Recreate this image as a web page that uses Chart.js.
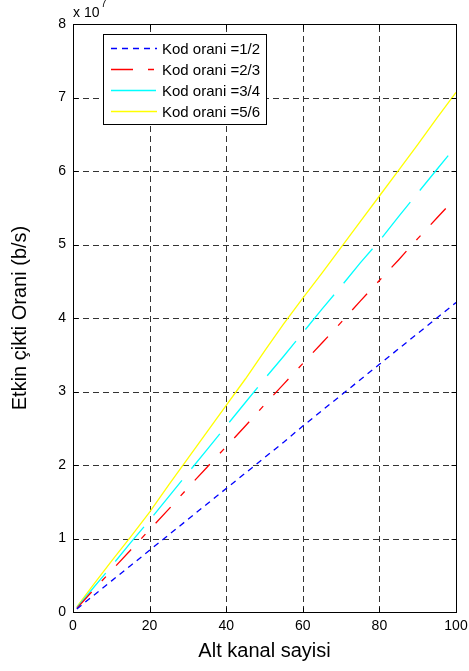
<!DOCTYPE html>
<html>
<head>
<meta charset="utf-8">
<script src="https://cdn.jsdelivr.net/npm/chart.js@4/dist/chart.umd.min.js"></script>
<style>
  html, body { margin: 0; padding: 0; background: #fff; }
  #wrap { width: 469px; height: 671px; position: relative; }
</style>
</head>
<body>
<div id="wrap"><canvas id="myChart"></canvas></div>
<script>
// number of sub-channels on the x axis
var subchannels = [1, 5, 10, 15, 20, 25, 30, 35, 40, 45, 50, 55, 60, 65, 70, 75, 80, 85, 90, 95, 100];

// effective throughput, in units of 10^7 b/s
var rate12 = [0.04, 0.21, 0.42, 0.63, 0.84, 1.05, 1.26, 1.47, 1.68, 1.89, 2.10, 2.31, 2.53, 2.74, 2.95, 3.16, 3.37, 3.58, 3.79, 4.00, 4.21];
var rate23 = [0.05, 0.28, 0.56, 0.84, 1.12, 1.40, 1.69, 1.97, 2.25, 2.53, 2.82, 3.10, 3.38, 3.66, 3.94, 4.23, 4.51, 4.79, 5.08, 5.36, 5.64];
var rate34 = [0.06, 0.31, 0.62, 0.94, 1.25, 1.57, 1.89, 2.21, 2.53, 2.85, 3.17, 3.48, 3.80, 4.12, 4.43, 4.75, 5.05, 5.38, 5.70, 6.02, 6.34];
var rate56 = [0.07, 0.35, 0.69, 1.02, 1.36, 1.73, 2.09, 2.45, 2.81, 3.17, 3.55, 3.92, 4.27, 4.61, 4.96, 5.31, 5.66, 6.01, 6.36, 6.72, 7.07];

var seriesLabels = ['Kod orani =1/2', 'Kod orani =2/3', 'Kod orani =3/4', 'Kod orani =5/6'];
var xTicks = [0, 20, 40, 60, 80, 100];
var yTicks = [0, 1, 2, 3, 4, 5, 6, 7, 8];

function pts(ys) {
  return subchannels.map(function (x, i) { return { x: x, y: ys[i] }; });
}

var styles = [
  { color: '#0000ff', dash: [6, 5] },
  { color: '#ff0000', dash: [22, 15, 6, 15] },
  { color: '#00ffff', dash: [45, 15] },
  { color: '#ffff00', dash: [] }
];
var allRates = [rate12, rate23, rate34, rate56];

var datasets = allRates.map(function (r, i) {
  return {
    label: seriesLabels[i],
    data: pts(r),
    borderColor: styles[i].color,
    borderDash: styles[i].dash,
    borderWidth: 1.3,
    pointRadius: 0,
    tension: 0,
    fill: false
  };
});

var FONT = '"Liberation Sans", Arial, Helvetica, sans-serif';

// grid, box, ticks, titles and legend in MATLAB style
var matlabAxes = {
  id: 'matlabAxes',
  beforeDatasetsDraw: function (chart) {
    var c = chart.ctx, a = chart.chartArea;
    var xs = chart.scales.x, ys = chart.scales.y;
    c.save();
    c.strokeStyle = '#333';
    c.lineWidth = 1;
    c.setLineDash([6, 4]);
    xTicks.slice(1, -1).forEach(function (v) {
      var px = Math.round(xs.getPixelForValue(v)) + 0.5;
      c.beginPath(); c.moveTo(px, a.bottom); c.lineTo(px, a.top); c.stroke();
    });
    yTicks.slice(1, -1).forEach(function (v) {
      var py = Math.round(ys.getPixelForValue(v)) + 0.5;
      c.beginPath(); c.moveTo(a.left, py); c.lineTo(a.right, py); c.stroke();
    });
    c.restore();
  },
  afterDatasetsDraw: function (chart) {
    var c = chart.ctx, a = chart.chartArea;
    var xs = chart.scales.x, ys = chart.scales.y;
    var L = Math.round(a.left) + 0.5, R = Math.round(a.right) + 0.5;
    var T = Math.round(a.top) + 0.5, B = Math.round(a.bottom) + 0.5;
    c.save();
    c.setLineDash([]);
    c.strokeStyle = '#000';
    c.lineWidth = 1;
    c.strokeRect(L, T, R - L, B - T);
    // inward tick marks
    xTicks.forEach(function (v) {
      var px = Math.round(xs.getPixelForValue(v)) + 0.5;
      c.beginPath();
      c.moveTo(px, B); c.lineTo(px, B - 5);
      c.moveTo(px, T); c.lineTo(px, T + 5);
      c.stroke();
    });
    yTicks.forEach(function (v) {
      var py = Math.round(ys.getPixelForValue(v)) + 0.5;
      c.beginPath();
      c.moveTo(L, py); c.lineTo(L + 5, py);
      c.moveTo(R, py); c.lineTo(R - 5, py);
      c.stroke();
    });

    // exponent label
    c.fillStyle = '#000';
    c.textBaseline = 'alphabetic';
    c.textAlign = 'left';
    c.font = '14px ' + FONT;
    c.fillText('x 10', 73, 17);
    c.font = '10px ' + FONT;
    c.fillText('7', 101, 7);

    // axis titles
    c.font = '20px ' + FONT;
    c.textAlign = 'center';
    c.textBaseline = 'middle';
    c.fillText('Alt kanal sayisi', (a.left + a.right) / 2, 651);
    c.save();
    c.translate(20, (a.top + a.bottom) / 2);
    c.rotate(-Math.PI / 2);
    c.fillText('Etkin çikti Orani (b/s)', 0, 0);
    c.restore();

    // legend box
    var bx = 103.5, by = 34.5, bw = 163, bh = 90;
    c.fillStyle = '#fff';
    c.fillRect(bx, by, bw, bh);
    c.strokeStyle = '#000';
    c.strokeRect(bx, by, bw, bh);
    c.font = '15px ' + FONT;
    c.textAlign = 'left';
    c.textBaseline = 'middle';
    chart.data.datasets.forEach(function (ds, i) {
      var ry = Math.round(48 + i * 21) + 0.5;
      c.strokeStyle = ds.borderColor;
      c.lineWidth = 1.6;
      c.setLineDash(ds.borderDash);
      c.beginPath(); c.moveTo(111, ry); c.lineTo(157, ry); c.stroke();
      c.setLineDash([]);
      c.fillStyle = '#000';
      c.fillText(ds.label, 162, ry + 1);
    });
    c.restore();
  }
};

var ctx = document.getElementById('myChart').getContext('2d');
var myChart = new Chart(ctx, {
  type: 'line',
  data: { datasets: datasets },
  options: {
    responsive: true,
    maintainAspectRatio: false,
    animation: false,
    layout: { padding: { top: 24, right: 13, left: 0, bottom: 0 } },
    plugins: {
      legend: { display: false },
      tooltip: { enabled: false }
    },
    scales: {
      x: {
        type: 'linear',
        min: 0,
        max: 100,
        afterBuildTicks: function (s) { s.ticks = xTicks.map(function (v) { return { value: v }; }); },
        afterFit: function (s) { s.height = 59; s.paddingLeft = 0; s.paddingRight = 0; },
        grid: { display: false, drawTicks: false },
        border: { display: false },
        ticks: { color: '#000', padding: 6, font: { size: 14, family: FONT }, maxRotation: 0 }
      },
      y: {
        type: 'linear',
        min: 0,
        max: 8,
        afterBuildTicks: function (s) { s.ticks = yTicks.map(function (v) { return { value: v }; }); },
        afterFit: function (s) { s.width = 73; s.paddingTop = 0; s.paddingBottom = 0; },
        grid: { display: false, drawTicks: false },
        border: { display: false },
        ticks: { color: '#000', padding: 7, font: { size: 14, family: FONT } }
      }
    }
  },
  plugins: [matlabAxes]
});
</script>
</body>
</html>
